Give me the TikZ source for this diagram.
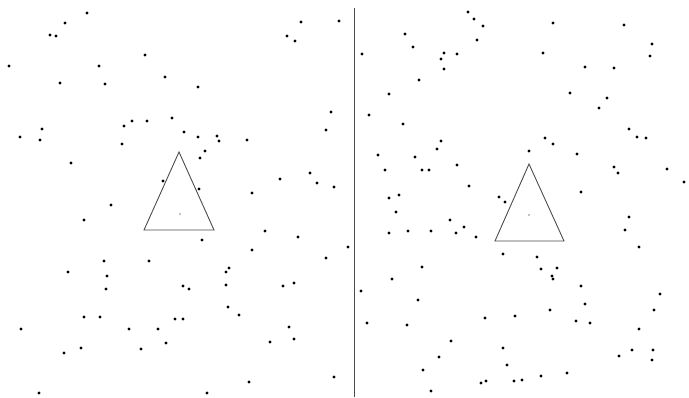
\documentclass[tikz,border=0pt]{standalone}
\begin{document}
\begin{tikzpicture}[x=1pt,y=-1pt,
  dotstyle/.style={fill=black},
  tri/.style={draw=black!70,line width=0.9pt,line join=miter},
  divider/.style={draw=black!70,line width=0.9pt}]
\useasboundingbox[fill=white] (0,0) rectangle (689,397);
% left dots
\foreach \x/\y in {87/13,65/23,50/35,56/36,9/66,145/55,99/66,60/83,105/84,165/77,198/87,
42/129,20/137,40/140,124/126,132/121,147/121,172/118,122/144,184/132,198/137,217/136,219/141,
205/151,200/158,71/163,163/181,199/189,
301/22,339/21,287/36,295/41,331/112,326/130,247/140,280/179,310/173,317/183,334/187,252/193,
111/205,84/220,202/240,104/261,149/261,68/272,107/276,106/289,183/286,189/289,226/272,229/268,
226/285,228/307,84/317,100/317,21/329,129/329,158/329,175/319,183/319,166/343,64/353,81/348,
141/349,39/393,207/393,
265/231,298/237,252/250,348/247,326/258,283/286,294/283,239/315,289/327,294/339,270/342,
249/382,334/377}
  \fill[dotstyle] (\x,\y) circle (1.6);
% right dots
\foreach \x/\y in {405/34,413/47,362/54,444/53,457/54,441/59,444/69,419/80,389/94,369/115,
403/124,441/141,437/149,378/155,415/157,457/165,385/170,422/170,429/170,389/198,399/195,
468/12,474/19,483/26,477/40,553/23,624/25,652/44,650/56,543/53,585/67,614/68,570/93,607/98,
599/108,629/129,637/137,646/138,545/138,553/144,529/151,577/154,614/167,618/173,667/169,
684/182,469/186,499/197,581/192,
396/212,450/220,389/233,408/231,431/231,456/233,422/267,392/279,361/291,418/300,367/323,
407/325,451/341,439/357,423/370,431/391,
505/202,464/227,476/237,503/254,537/257,541/269,557/268,552/276,553/279,629/217,625/230,
639/247,581/286,585/304,660/294,654/310,550/310,515/316,485/318,576/321,590/323,639/329,
503/348,507/365,481/383,486/381,514/381,522/380,541/376,567/373,619/356,632/350,653/350,
652/360}
  \fill[dotstyle] (\x,\y) circle (1.6);
% divider
\coordinate (dtop) at (354,8);
\coordinate (dbot) at (354,397);
\draw[divider] (dtop) -- (dbot);
% triangles
\coordinate (a1) at (179,152); \coordinate (b1) at (144,230); \coordinate (c1) at (214,230);
\draw[tri] (a1) -- (b1) -- (c1) -- cycle;
\fill (180,214) circle (0.6);
\coordinate (a2) at (529,164); \coordinate (b2) at (495,241); \coordinate (c2) at (564,241);
\draw[tri] (a2) -- (b2) -- (c2) -- cycle;
\fill (529,215) circle (0.6);
\end{tikzpicture}
\end{document}
